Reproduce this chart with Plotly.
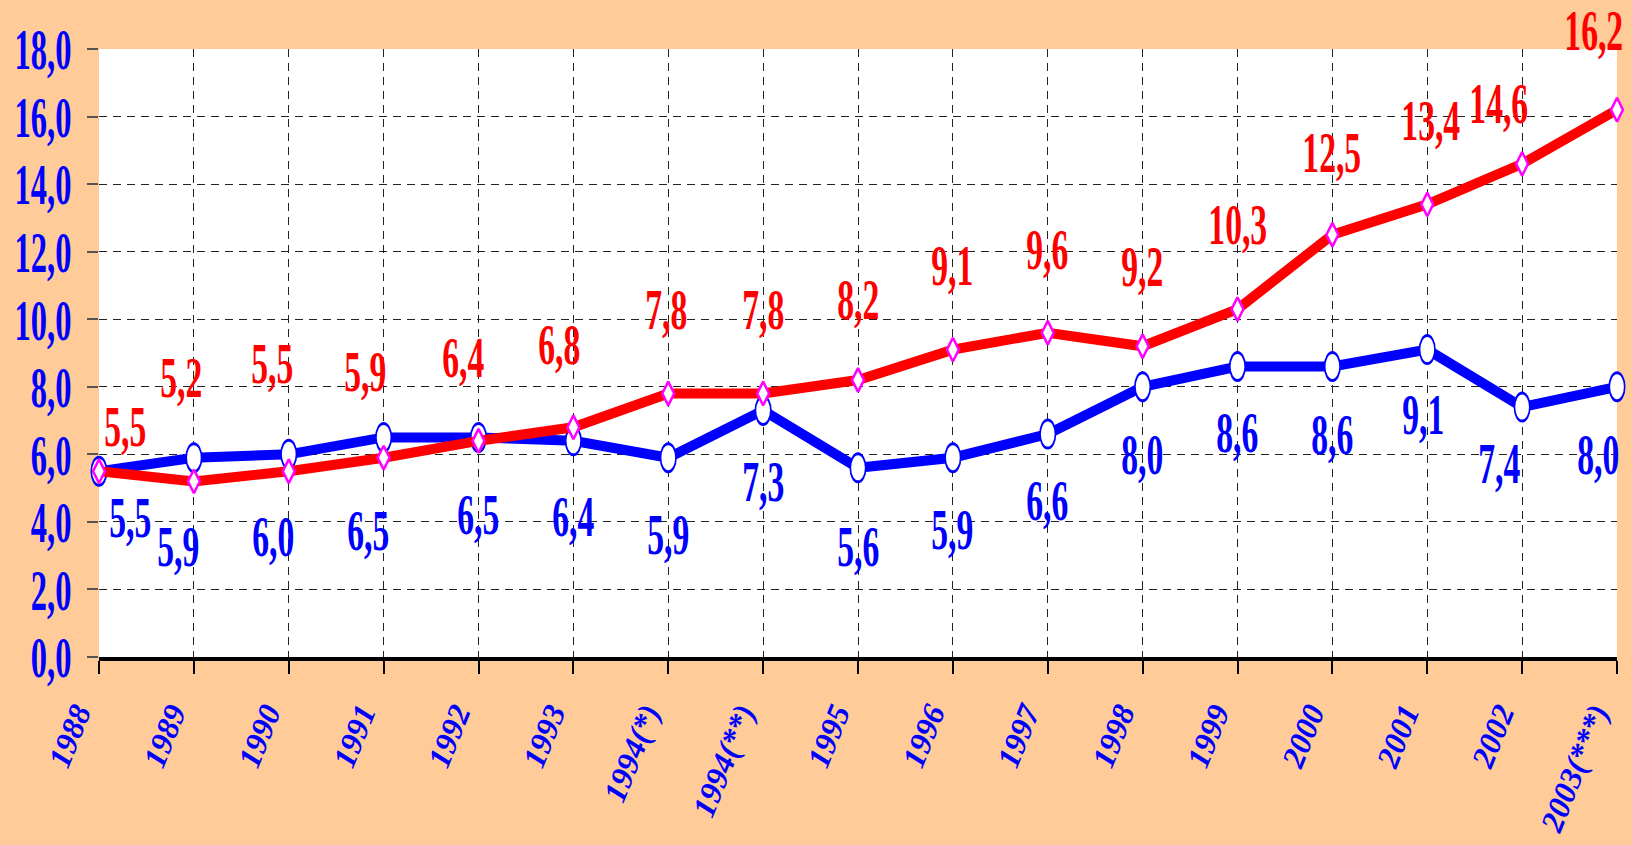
import plotly.graph_objects as go

years = ["1988", "1989", "1990", "1991", "1992", "1993", "1994(*)", "1994(**)",
         "1995", "1996", "1997", "1998", "1999", "2000", "2001", "2002", "2003(***)"]
blue_vals = [5.5, 5.9, 6.0, 6.5, 6.5, 6.4, 5.9, 7.3, 5.6, 5.9, 6.6, 8.0, 8.6, 8.6, 9.1, 7.4, 8.0]
red_vals = [5.5, 5.2, 5.5, 5.9, 6.4, 6.8, 7.8, 7.8, 8.2, 9.1, 9.6, 9.2, 10.3, 12.5, 13.4, 14.6, 16.2]

# label offsets in pixels (x, y) relative to each point
red_dx = [26, -12, -16, -18, -15, -14, -2, 0, 0, 0, 0, 0, 0, 0, 4, -23, -23]
red_dy = [42, 101, 105, 83, 80, 80, 81, 81, 78, 81, 80, 77, 82, 79, 81, 57, 76]
blue_dx = [31, -15, -15, -15, 0, 0, 0, 0, 0, 0, 0, 0, 0, 0, -4, -23, -19]
blue_dy = [49, 92, 85, 96, 80, 79, 80, 74, 82, 75, 69, 71, 69, 71, 68, 59, 71]

FONT = "Liberation Serif, Times New Roman, serif"


def fmt(v):
    return f"{v:.1f}".replace(".", ",")


fig = go.Figure()
fig.add_trace(go.Scatter(
    x=years, y=blue_vals, mode="lines+markers", cliponaxis=False,
    line=dict(color="#0000FF", width=10),
    marker=dict(symbol="circle", size=28, color="white", line=dict(color="#0000FF", width=3)),
))
fig.add_trace(go.Scatter(
    x=years, y=red_vals, mode="lines+markers", cliponaxis=False,
    line=dict(color="#FF0000", width=10),
    marker=dict(symbol="diamond-tall", size=17, color="white", line=dict(color="#FF00FF", width=2.5)),
))

annotations = []
for i in range(len(years)):
    annotations.append(dict(x=i, y=red_vals[i], text=fmt(red_vals[i]), showarrow=False,
                            xshift=red_dx[i], yshift=red_dy[i] + 3,
                            font=dict(family=FONT, size=58, color="#FF0000", weight="bold")))
    annotations.append(dict(x=i, y=blue_vals[i], text=fmt(blue_vals[i]), showarrow=False,
                            xshift=blue_dx[i], yshift=-blue_dy[i] + 3,
                            font=dict(family=FONT, size=58, color="#0000FF", weight="bold")))

fig.update_layout(
    width=1632, height=845,
    paper_bgcolor="#FFCC99", plot_bgcolor="white",
    margin=dict(l=99, r=15, t=49, b=188),
    showlegend=False,
    separators=", ",
    annotations=annotations,
)
fig.update_xaxes(
    type="category", range=[0, len(years) - 1], automargin=False,
    showgrid=True, gridcolor="#222", gridwidth=1, griddash="8px,6px",
    showline=True, linecolor="black", linewidth=4,
    ticks="outside", ticklen=13, tickwidth=2, tickcolor="black",
    tickangle=-68, ticklabelstandoff=8, ticklabelshift=-22,
    tickfont=dict(family=FONT, size=32, color="#0000FF", weight="bold", style="italic"),
)
fig.update_yaxes(
    range=[0, 18], dtick=2, tickformat=".1f", automargin=False,
    showgrid=True, gridcolor="#222", gridwidth=1, griddash="8px,6px",
    zeroline=False, showline=False,
    ticks="outside", ticklen=11, tickwidth=2, tickcolor="#555",
    ticklabelstandoff=4,
    tickfont=dict(family=FONT, size=58, color="#0000FF", weight="bold"),
)

# the original uses a tall, narrow typeface and tall markers: squeeze them sideways
squeeze_js = """
document.body.style.margin = '0';
document.body.style.overflow = 'hidden';
var gd = document.getElementById('{plot_id}');
function squeeze(nodes, sx, right) {
  nodes.forEach(function (t) {
    var b = t.getBBox();
    var cx = right ? b.x + b.width : b.x + b.width / 2;
    var cy = b.y + b.height / 2;
    var tr = t.getAttribute('transform') || '';
    t.setAttribute('transform', tr + ' translate(' + cx + ',' + cy + ') scale(' + sx + ',1) translate(' + (-cx) + ',' + (-cy) + ')');
  });
}
squeeze(gd.querySelectorAll('.annotation-text'), 0.58, false);
squeeze(gd.querySelectorAll('.ytick text'), 0.56, true);
var tr0 = gd.querySelectorAll('.scatterlayer .trace')[0];
tr0.querySelectorAll('path.point').forEach(function (p) {
  p.setAttribute('transform', (p.getAttribute('transform') || '') + ' scale(0.55,1)');
});
"""

fig.write_html("out.html", post_script=squeeze_js, config={"displayModeBar": False})
